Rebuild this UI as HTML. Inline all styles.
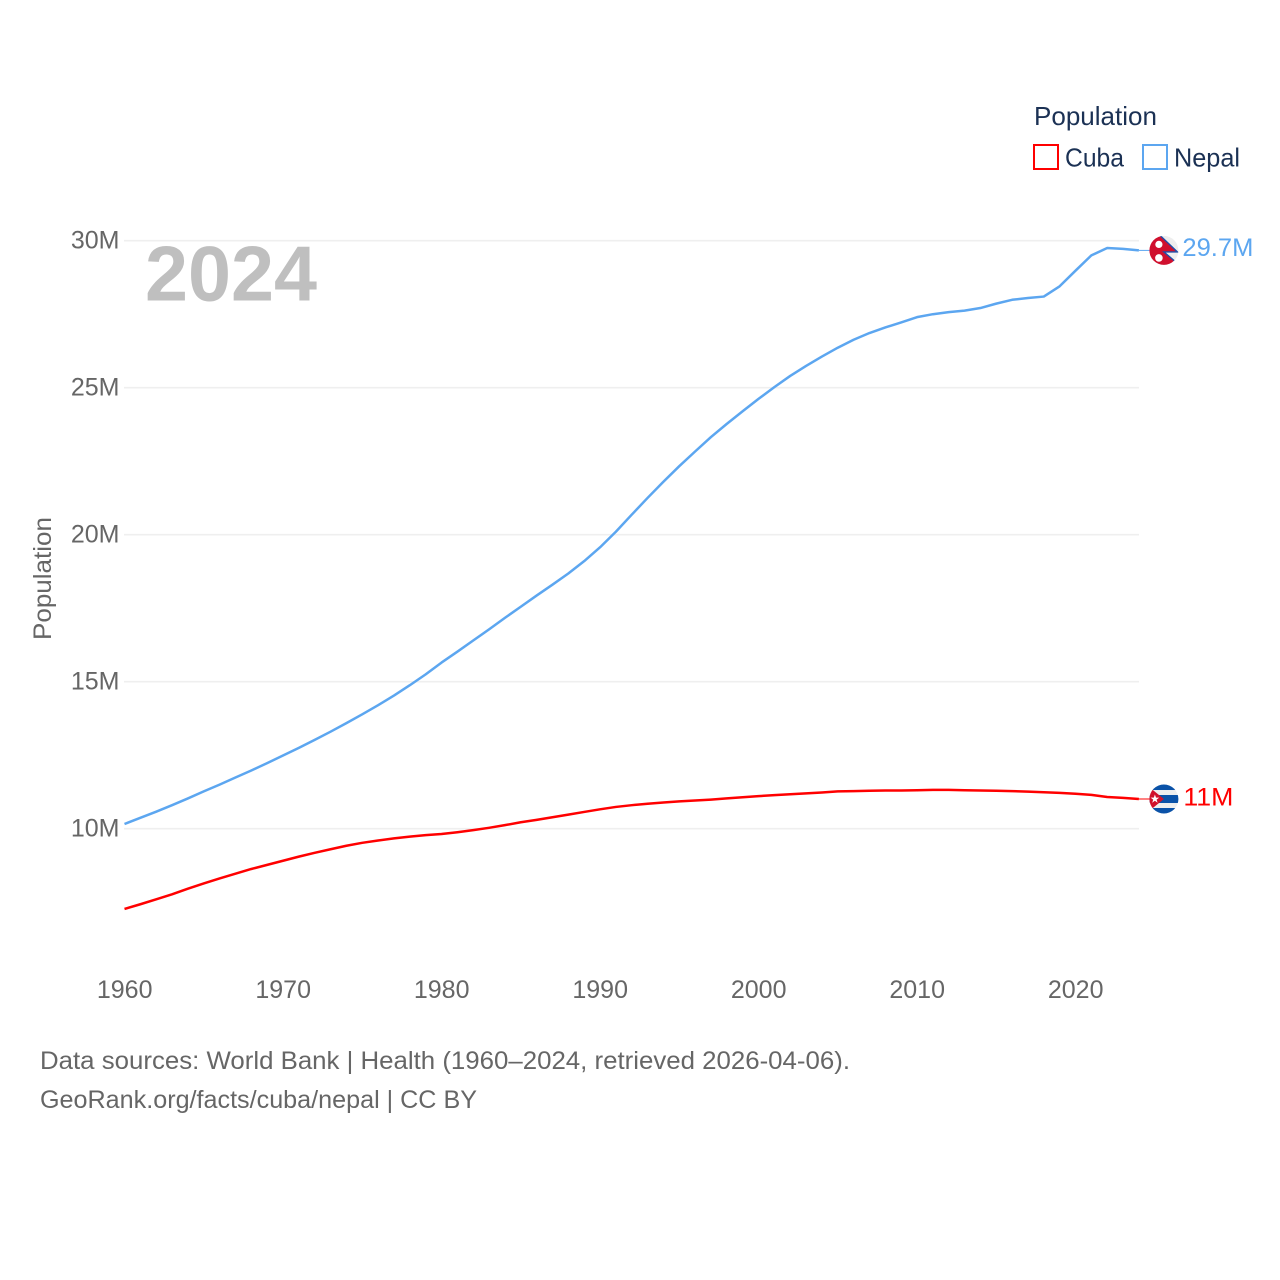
<!DOCTYPE html>
<html lang="en">
<head>
<meta charset="utf-8">
<title>Population: Cuba and Nepal</title>
<style>
html,body{margin:0;padding:0;background:#fff;}
svg{display:block;}
text{font-family:"Liberation Sans",sans-serif;}
</style>
</head>
<body>
<svg id="chart" xmlns="http://www.w3.org/2000/svg" width="1280" height="1280" viewBox="0 0 1280 1280">
  <rect width="1280" height="1280" fill="#fff"/>
  <g id="grid"></g>
  <g id="yticks"></g>
  <g id="xticks"></g>
  <text x="145" y="300.5" font-size="78" font-weight="700" fill="#bfbfbf" textLength="172" lengthAdjust="spacingAndGlyphs">2024</text>
  <text transform="translate(51,640) rotate(-90)" font-size="25" fill="#666" textLength="123" lengthAdjust="spacingAndGlyphs">Population</text>
  <g id="series"></g>
  <g>
    <text x="1034" y="125" font-size="26" fill="#1b3154" textLength="123" lengthAdjust="spacingAndGlyphs">Population</text>
    <rect x="1034" y="145" width="24" height="24" fill="none" stroke="#ff0000" stroke-width="2"/>
    <text x="1065" y="166.5" font-size="26" fill="#1b3154" textLength="59" lengthAdjust="spacingAndGlyphs">Cuba</text>
    <rect x="1143" y="145" width="24" height="24" fill="none" stroke="#5ca6f0" stroke-width="2"/>
    <text x="1174" y="166.5" font-size="26" fill="#1b3154" textLength="66" lengthAdjust="spacingAndGlyphs">Nepal</text>
  </g>
  <defs>
    <clipPath id="flag-clip"><circle cx="0" cy="0" r="14.5"/></clipPath>
  </defs>
  <g id="nepal-flag">
    <g clip-path="url(#flag-clip)">
      <rect x="-16" y="-16" width="32" height="32" fill="#eeeeee"/>
      <polygon points="-17,-17 -6,-17 13.5,1.5 0,1.5 13.5,13 13.5,17 -17,17" fill="#d0102e" stroke="#1f4fa8" stroke-width="1.4"/>
      <circle cx="-5" cy="-6" r="3.6" fill="#fff"/>
      <circle cx="-5" cy="7.5" r="3.8" fill="#fff"/>
    </g>
  </g>
  <g id="cuba-flag">
    <g clip-path="url(#flag-clip)">
      <rect x="-16" y="-16" width="32" height="32" fill="#eeeeee"/>
      <rect x="-16" y="-16" width="32" height="7" fill="#0a52a8"/>
      <rect x="-16" y="-4" width="32" height="8" fill="#0a52a8"/>
      <rect x="-16" y="9" width="32" height="7" fill="#0a52a8"/>
      <polygon points="-16,-13 0,0 -16,13" fill="#d0112b"/>
      <polygon points="-9,-4.5 -7.9,-1.4 -4.7,-1.4 -7.3,0.6 -6.3,3.7 -9,1.8 -11.7,3.7 -10.7,0.6 -13.3,-1.4 -10.1,-1.4" fill="#fff"/>
    </g>
  </g>
  <g id="end-labels"></g>
  <g>
    <text x="40" y="1069" font-size="25" fill="#666" textLength="810" lengthAdjust="spacingAndGlyphs">Data sources: World Bank | Health (1960–2024, retrieved 2026-04-06).</text>
    <text x="40" y="1108" font-size="25" fill="#666" textLength="437" lengthAdjust="spacingAndGlyphs">GeoRank.org/facts/cuba/nepal | CC BY</text>
  </g>
</svg>
<script>
const years = [1960,1961,1962,1963,1964,1965,1966,1967,1968,1969,1970,1971,1972,1973,1974,1975,1976,1977,1978,1979,1980,1981,1982,1983,1984,1985,1986,1987,1988,1989,1990,1991,1992,1993,1994,1995,1996,1997,1998,1999,2000,2001,2002,2003,2004,2005,2006,2007,2008,2009,2010,2011,2012,2013,2014,2015,2016,2017,2018,2019,2020,2021,2022,2023,2024];
const nepalValues = [10.16,10.37,10.58,10.80,11.03,11.27,11.50,11.74,11.98,12.23,12.49,12.75,13.02,13.30,13.59,13.89,14.20,14.53,14.88,15.25,15.65,16.02,16.40,16.78,17.17,17.55,17.93,18.30,18.68,19.10,19.57,20.10,20.68,21.25,21.80,22.33,22.83,23.32,23.77,24.20,24.62,25.02,25.40,25.74,26.06,26.36,26.63,26.86,27.05,27.22,27.40,27.50,27.57,27.62,27.71,27.86,27.99,28.05,28.10,28.45,28.98,29.50,29.75,29.72,29.67];
const cubaValues = [7.27,7.43,7.60,7.77,7.96,8.14,8.31,8.47,8.63,8.77,8.91,9.05,9.18,9.30,9.42,9.52,9.60,9.67,9.73,9.78,9.82,9.88,9.95,10.03,10.12,10.22,10.30,10.39,10.48,10.57,10.66,10.74,10.80,10.85,10.89,10.93,10.96,10.99,11.03,11.07,11.11,11.14,11.17,11.20,11.23,11.27,11.28,11.29,11.30,11.30,11.31,11.32,11.32,11.31,11.30,11.29,11.28,11.26,11.24,11.22,11.19,11.15,11.08,11.05,11.01];
const yTickValues = [10,15,20,25,30];
const yTickLabels = ["10M","15M","20M","25M","30M"];
const xTickValues = [1960,1970,1980,1990,2000,2010,2020];
const xTickLabels = ["1960","1970","1980","1990","2000","2010","2020"];
const nepalEndLabel = "29.7M";
const cubaEndLabel = "11M";

const NS = "http://www.w3.org/2000/svg";
function xScale(year){ return 124.5 + (year - 1960) * 15.85; }
function yScale(v){ return 828.7 - (v - 10) * 29.4; }
function make(tag, parentId){
  const el = document.createElementNS(NS, tag);
  document.getElementById(parentId).appendChild(el);
  return el;
}
yTickValues.forEach(function(v, i){
  const line = make("line", "grid");
  
  
  line.setAttribute("x1", 124);
  line.setAttribute("x2", 1139);
  line.setAttribute("y1", yScale(v));
  line.setAttribute("y2", yScale(v));
  line.setAttribute("stroke", "#efefef");
  line.setAttribute("stroke-width", "1.6");
  const label = make("text", "yticks");
  
  
  label.setAttribute("x", 119.5);
  label.setAttribute("y", yScale(v) + 8);
  label.setAttribute("text-anchor", "end");
  label.setAttribute("font-size", "25");
  label.setAttribute("fill", "#666");
  label.textContent = yTickLabels[i];
});
xTickValues.forEach(function(year, i){
  const label = make("text", "xticks");
  
  
  label.setAttribute("x", xScale(year) + 0.2);
  label.setAttribute("y", 998);
  label.setAttribute("text-anchor", "middle");
  label.setAttribute("font-size", "25");
  label.setAttribute("fill", "#666");
  label.textContent = xTickLabels[i];
});
function pathFrom(values){
  return values.map(function(v, i){
    return (i ? "L" : "M") + xScale(years[i]).toFixed(2) + " " + yScale(v).toFixed(2);
  }).join(" ");
}
function leaderFrom(values){
  const y = yScale(values[values.length - 1]);
  const x = xScale(years[years.length - 1]);
  return "M" + x.toFixed(2) + " " + y.toFixed(2) + " L" + (x + 12).toFixed(2) + " " + y.toFixed(2);
}
const cubaLine = make("path", "series");


cubaLine.setAttribute("d", pathFrom(cubaValues));
cubaLine.setAttribute("fill", "none");
cubaLine.setAttribute("stroke", "#ff0000");
cubaLine.setAttribute("stroke-width", "2.5");
cubaLine.setAttribute("stroke-linejoin", "round");
const nepalLine = make("path", "series");


nepalLine.setAttribute("d", pathFrom(nepalValues));
nepalLine.setAttribute("fill", "none");
nepalLine.setAttribute("stroke", "#5ca6f0");
nepalLine.setAttribute("stroke-width", "2.5");
nepalLine.setAttribute("stroke-linejoin", "round");
const cubaLeader = make("path", "series");


cubaLeader.setAttribute("d", leaderFrom(cubaValues));
cubaLeader.setAttribute("stroke", "#ff0000");
cubaLeader.setAttribute("stroke-width", "1");
const nepalLeader = make("path", "series");


nepalLeader.setAttribute("d", leaderFrom(nepalValues));
nepalLeader.setAttribute("stroke", "#5ca6f0");
nepalLeader.setAttribute("stroke-width", "1");

const endX = xScale(years[years.length - 1]) + 25;
const nepalY = yScale(nepalValues[nepalValues.length - 1]);
const cubaY = yScale(cubaValues[cubaValues.length - 1]);
document.getElementById("nepal-flag").setAttribute("transform", "translate(" + endX + "," + nepalY + ")");
document.getElementById("cuba-flag").setAttribute("transform", "translate(" + endX + "," + cubaY + ")");
const nepalLabel = make("text", "end-labels");


nepalLabel.setAttribute("x", endX + 18.5);
nepalLabel.setAttribute("y", nepalY + 5.5);
nepalLabel.setAttribute("font-size", "25");
nepalLabel.setAttribute("fill", "#5ca6f0");
nepalLabel.setAttribute("textLength", "71");
nepalLabel.setAttribute("lengthAdjust", "spacingAndGlyphs");
nepalLabel.textContent = nepalEndLabel;
const cubaLabel = make("text", "end-labels");


cubaLabel.setAttribute("x", endX + 19.5);
cubaLabel.setAttribute("y", cubaY + 6.5);
cubaLabel.setAttribute("font-size", "25");
cubaLabel.setAttribute("fill", "#ff0000");
cubaLabel.setAttribute("textLength", "50");
cubaLabel.setAttribute("lengthAdjust", "spacingAndGlyphs");
cubaLabel.textContent = cubaEndLabel;
</script>
</body>
</html>
